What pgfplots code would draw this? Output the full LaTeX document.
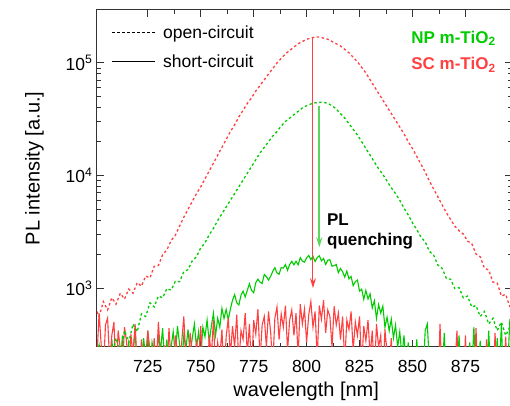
\documentclass[border=0pt]{standalone}
\usepackage{pgfplots}
\pgfplotsset{compat=1.18}
\usepackage{pgfplotstable}
\usepackage{fontspec}
\setmainfont{Liberation Sans}
\usetikzlibrary{arrows.meta}
\definecolor{cred}{RGB}{255,64,64}
\definecolor{cgreen}{RGB}{0,204,0}
\definecolor{carrowg}{RGB}{90,214,90}

% open-circuit, SC m-TiO2 (red dashed)
\pgfplotstableread{
x y
700 680
702 560
704 760
706 640
708 820
710 720
712 900
714 800
716 980
718 900
720 1120
722 1040
724 1280
726 1230
728 1560
730 1590
732 1980
734 2180
736 2650
738 2950
740 3548
742 4266
744 5012
746 5888
748 6918
750 7943
752 9333
754 10965
756 12882
758 15136
760 17783
762 20893
764 24547
766 28184
768 33113
770 38019
772 43652
774 48978
776 56234
778 63096
780 70795
782 79433
784 89125
786 100000
788 109648
790 120226
792 128825
794 138038
796 147911
798 154882
800 162181
802 165959
804 169824
806 169824
808 165959
810 162181
812 154882
814 147911
816 141254
818 131826
820 123027
822 112202
824 102329
826 91201
828 81283
830 70795
832 61660
834 53703
836 46774
838 40738
840 35481
842 30903
844 26915
846 23442
848 19953
850 17378
852 14791
854 12589
856 10715
858 8913
860 7586
862 6457
864 5495
866 4677
868 4074
870 3548
872 3236
874 3020
876 2620
878 2480
880 2010
882 1900
884 1500
886 1450
888 1130
890 1110
892 850
894 880
896 680
}\redopen

% open-circuit, NP m-TiO2 (green dashed)
\pgfplotstableread{
x y
700 200
702 310
704 180
706 290
708 240
710 360
712 260
714 420
716 330
718 480
720 410
722 590
724 560
726 740
728 680
730 850
732 820
734 990
736 960
738 1150
740 1140
742 1400
744 1460
746 1750
748 1900
750 2280
752 2520
754 2980
756 3388
758 3981
760 4571
762 5248
764 6026
766 6918
768 7943
770 9120
772 10471
774 12023
776 13804
778 15849
780 17783
782 19953
784 22387
786 24547
788 27542
790 30200
792 32359
794 34674
796 37154
798 39811
800 41687
802 43152
804 44157
806 44668
808 44668
810 43652
812 41687
814 38905
816 35481
818 32359
820 28840
822 25704
824 22909
826 19953
828 17378
830 15136
832 13183
834 11482
836 10233
838 8913
840 7762
842 6918
844 6026
846 5129
848 4467
850 3802
852 3311
854 2840
856 2580
858 2120
860 1960
862 1600
864 1500
866 1220
868 1200
870 990
872 1010
874 820
876 850
878 680
880 700
882 560
884 620
886 480
888 540
890 420
892 500
894 380
896 450
}\greenopen

% short-circuit, NP m-TiO2 (green solid)
\pgfplotstableread{
x y
700 180
701 240
702 150
703 310
704 200
705 130
706 260
707 170
708 350
709 210
710 140
711 280
712 190
713 380
714 160
715 250
716 330
717 150
718 270
719 410
720 200
721 300
722 170
723 360
724 240
725 420
726 190
727 330
728 260
729 150
730 390
731 280
732 440
733 210
734 350
735 170
736 300
737 410
738 250
739 460
740 320
741 200
742 380
743 290
744 430
745 260
746 360
747 480
748 300
749 410
750 250
751 450
752 370
753 520
754 330
755 460
756 600
757 380
758 540
759 450
760 660
761 538
762 646
763 524
764 652
765 780
766 876
767 742
768 708
769 864
770 940
771 834
772 958
773 1092
774 956
775 910
776 1120
777 1200
778 1130
779 1100
780 1320
781 1264
782 1178
783 1272
784 1406
785 1520
786 1364
787 1328
788 1522
789 1506
790 1620
791 1440
792 1620
793 1730
794 1610
795 1730
796 1612
797 1864
798 1736
799 1698
800 1860
801 1950
802 1790
803 1920
804 1720
805 1870
806 1938
807 1746
808 1834
809 1622
810 1770
811 1788
812 1566
813 1584
814 1622
815 1370
816 1494
817 1398
818 1252
819 1416
820 1210
821 1270
822 1050
823 1140
824 1180
825 940
826 978
827 796
828 954
829 802
830 890
831 666
832 772
833 538
834 714
835 600
836 694
837 448
838 552
839 416
840 530
841 360
842 470
843 300
844 410
845 250
846 380
847 200
848 330
849 180
850 290
851 150
852 350
853 200
854 280
855 160
856 420
857 480
858 210
859 150
860 270
861 180
862 130
863 230
864 160
865 400
866 140
867 260
868 170
869 120
870 200
871 150
872 380
873 140
874 250
875 160
876 120
877 330
878 180
879 450
880 150
881 200
882 340
883 130
884 260
885 170
886 420
887 150
888 230
889 120
890 360
891 180
892 480
893 140
894 300
895 200
896 530
}\greenshort

% short-circuit, SC m-TiO2 (red solid)
\pgfplotstableread{
x y
700 520
701 250
702 600
703 310
704 180
705 470
706 540
707 220
708 380
709 500
710 160
711 420
712 290
713 200
714 450
715 330
716 150
717 390
718 260
719 480
720 200
721 140
722 350
723 230
724 170
725 420
726 280
727 150
728 360
729 200
730 500
731 250
732 130
733 310
734 180
735 440
736 220
737 160
738 380
739 270
740 140
741 330
742 560
743 230
744 170
745 400
746 260
747 150
748 350
749 210
750 460
751 190
752 300
753 140
754 380
755 250
756 520
757 180
758 330
759 240
760 430
761 160
762 370
763 540
764 250
765 460
766 300
767 580
768 210
769 420
770 350
771 600
772 260
773 480
774 180
775 520
776 390
777 650
778 230
779 470
780 560
781 300
782 620
783 410
784 200
785 540
786 680
787 350
788 590
789 450
790 700
791 280
792 520
793 640
794 380
795 600
796 250
797 720
798 480
799 650
800 330
801 580
802 760
803 450
804 620
805 240
806 700
807 530
808 780
809 400
810 640
811 560
812 300
813 690
814 470
815 600
816 350
817 560
818 220
819 520
820 430
821 620
822 280
823 500
824 380
825 560
826 200
827 460
828 340
829 520
830 250
831 420
832 170
833 480
834 300
835 380
836 150
837 430
838 260
839 200
840 360
841 140
842 290
843 180
844 230
845 130
846 270
847 160
848 120
849 250
850 140
851 190
852 120
853 210
854 150
855 110
856 180
857 130
858 220
859 140
860 120
861 170
862 110
863 480
864 150
865 130
866 200
867 120
868 160
869 110
870 190
871 420
872 130
873 150
874 120
875 380
876 140
877 110
878 170
879 130
880 440
881 150
882 120
883 200
884 130
885 350
886 110
887 160
888 130
889 400
890 140
891 120
892 180
893 130
894 370
895 150
896 120
}\redshort

\begin{document}
\begin{tikzpicture}
\useasboundingbox (-97bp,-59bp) rectangle (413bp,347bp);
\begin{axis}[
  at={(0,0)}, anchor=south west,
  scale only axis,
  width=415bp, height=337bp,
  xmin=701, xmax=897,
  ymode=log, ymin=300, ymax=295000,
  xtick={725,750,775,800,825,850,875},
  minor x tick num=1,
  ytick={1000,10000,100000},
  yticklabels={10\textsuperscript{3},10\textsuperscript{4},10\textsuperscript{5}},
  /pgf/number format/assume math mode=true,
  tick align=inside,
  major tick length=7bp,
  minor tick length=4bp,
  axis line style={line width=1bp, black!80},
  every tick/.style={line width=0.9bp, black!80},
  tick label style={font=\fontsize{17.5bp}{21bp}\selectfont},
  xticklabel style={yshift=-10bp},
  yticklabel style={xshift=-1bp},
  xlabel={wavelength [nm]},
  ylabel={PL intensity [a.u.]},
  xlabel style={at={(axis description cs:0.504,-0.132)}, anchor=center, font=\fontsize{20bp}{24bp}\selectfont},
  ylabel style={at={(axis description cs:-0.151,0.53)}, rotate=0, anchor=center, font=\fontsize{20bp}{24bp}\selectfont},
  clip=true,
]
\addplot[cgreen, line width=1.1bp] table[x=x,y=y] {\greenshort};
\addplot[cred, line width=1.1bp] table[x=x,y=y] {\redshort};
\addplot[cgreen, line width=1.3bp, dash pattern=on 2.5bp off 2.5bp] table[x=x,y=y] {\greenopen};
\addplot[cred, line width=1.3bp, dash pattern=on 2.5bp off 2.5bp] table[x=x,y=y] {\redopen};

\draw[cred, line width=1bp, -{Stealth[length=10bp,width=6bp]}] (axis cs:803,166000) -- (axis cs:803,1000);
\draw[carrowg, line width=2bp, -{Stealth[length=10bp,width=6bp]}] (axis cs:806,41000) -- (axis cs:806,2300);

\node[anchor=base west, inner sep=0pt, font=\fontsize{17bp}{20bp}\selectfont\bfseries] at (axis cs:809.6,3615) {PL};
\node[anchor=base west, inner sep=0pt, font=\fontsize{17bp}{20bp}\selectfont\bfseries] at (axis cs:809.6,2400) {quenching};

% legend
\draw[black, line width=1.1bp, dash pattern=on 3bp off 2bp] (rel axis cs:0.036,0.932) -- (rel axis cs:0.14,0.932);
\draw[black, line width=1.1bp] (rel axis cs:0.036,0.846) -- (rel axis cs:0.14,0.846);
\node[anchor=base west, inner sep=0pt, font=\fontsize{17.5bp}{21bp}\selectfont] at (rel axis cs:0.159,0.914) {open-circuit};
\node[anchor=base west, inner sep=0pt, font=\fontsize{17.5bp}{21bp}\selectfont] at (rel axis cs:0.159,0.828) {short-circuit};

\node[anchor=base east, inner sep=0pt, text=cgreen, font=\fontsize{17bp}{20bp}\selectfont\bfseries] at (rel axis cs:0.961,0.902) {NP m-TiO\textsubscript{2}};
\node[anchor=base east, inner sep=0pt, text=cred, font=\fontsize{17bp}{20bp}\selectfont\bfseries] at (rel axis cs:0.961,0.822) {SC m-TiO\textsubscript{2}};
\end{axis}
\end{tikzpicture}
\end{document}
